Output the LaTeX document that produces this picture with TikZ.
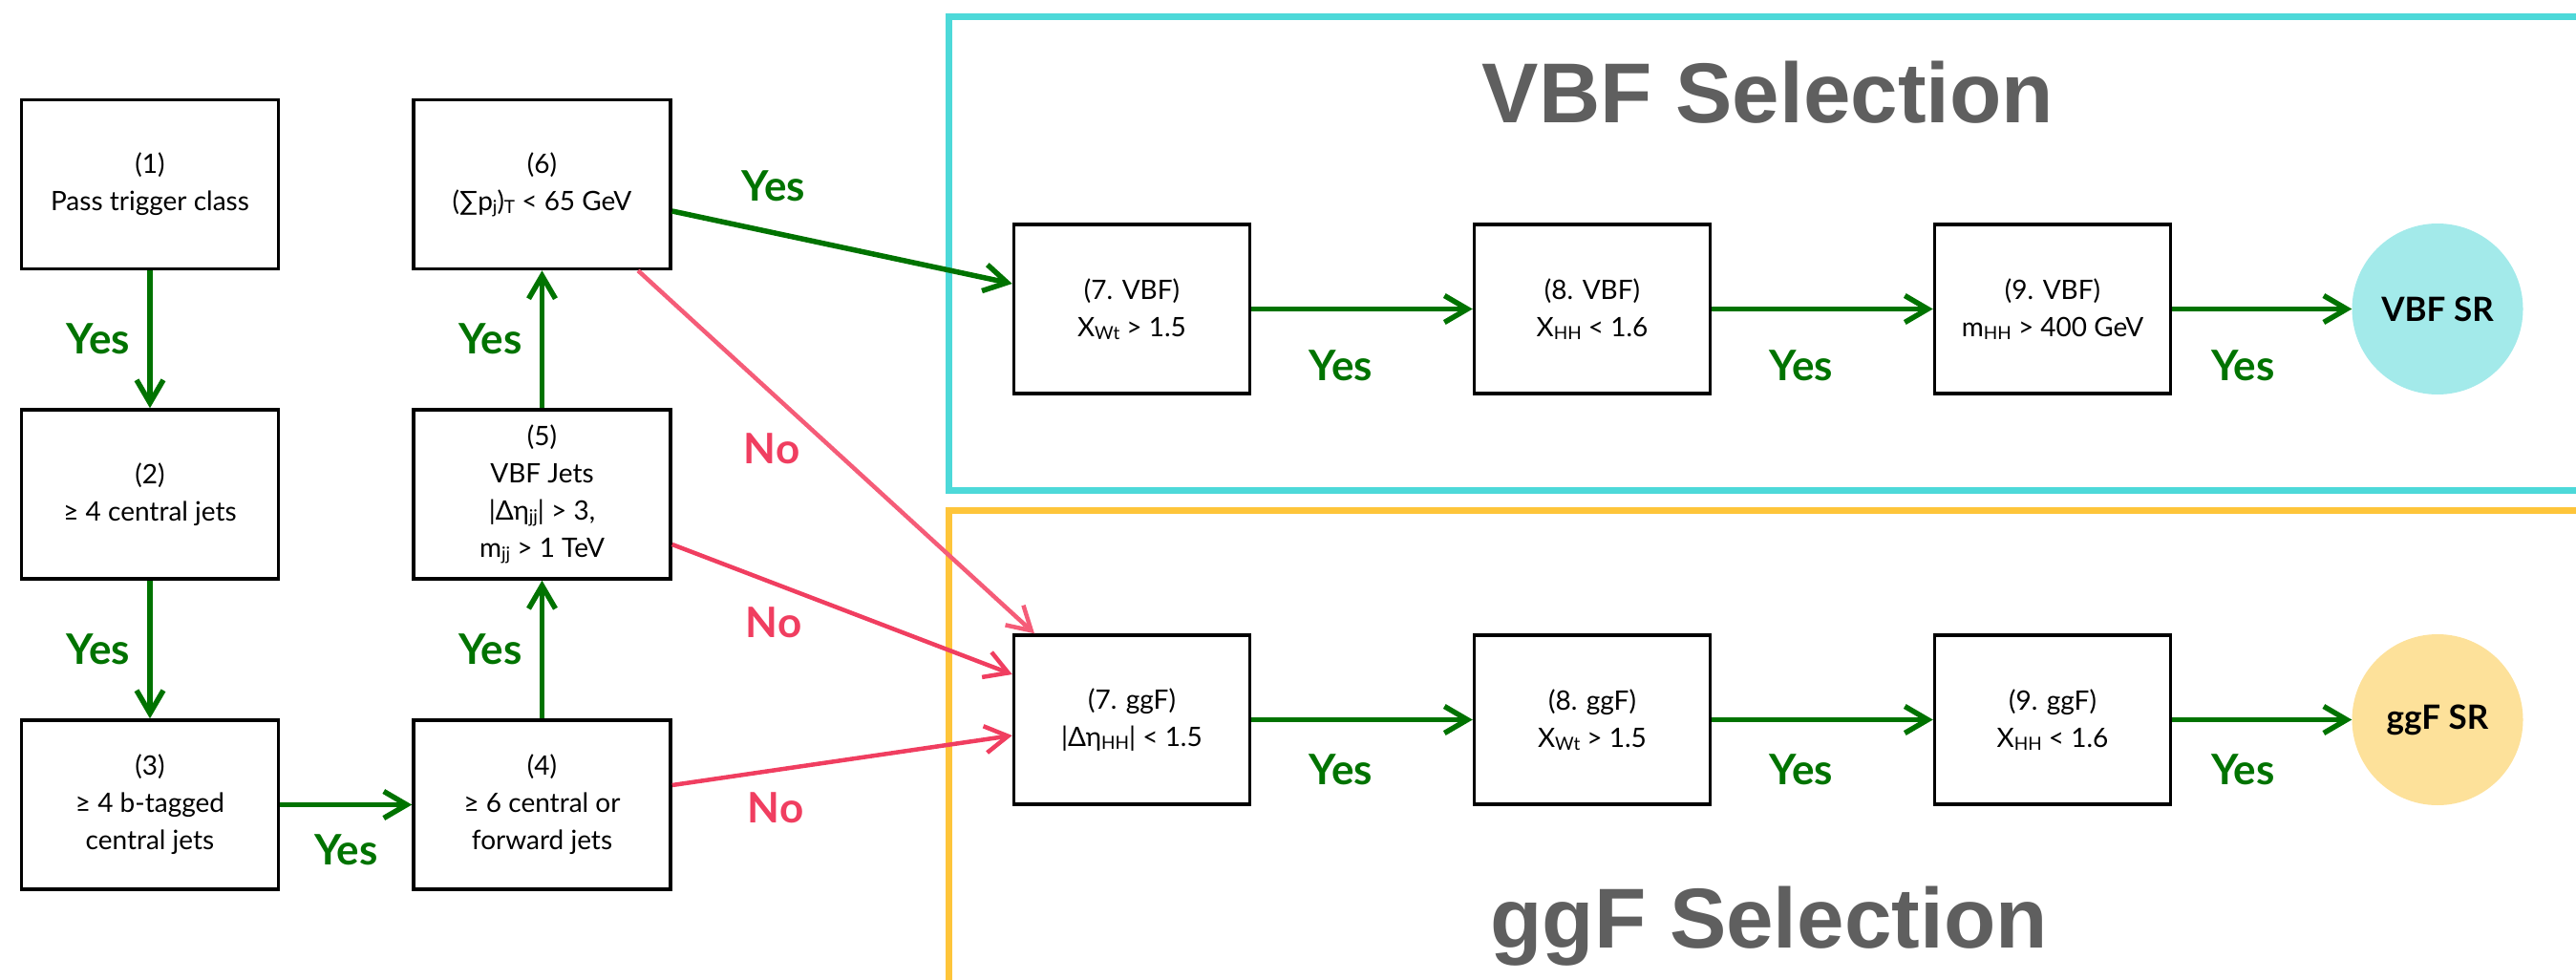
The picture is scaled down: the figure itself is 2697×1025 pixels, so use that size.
\documentclass[tikz,border=0pt]{standalone}
\usepackage{fontspec}
\setmainfont{Lato}
\newfontfamily\headfont{Liberation Sans}
\usetikzlibrary{arrows.meta}

\definecolor{yesgreen}{RGB}{0,115,0}
\definecolor{nored}{RGB}{240,62,96}
\definecolor{nopink}{RGB}{245,92,120}
\definecolor{vbfcyan}{RGB}{77,217,217}
\definecolor{ggfyellow}{RGB}{254,197,58}
\definecolor{vbffill}{RGB}{163,234,234}
\definecolor{ggffill}{RGB}{253,225,154}
\definecolor{headgray}{RGB}{95,95,95}

% small lowered text used for subscripts inside the cut boxes
\newcommand\lsub[1]{\raisebox{-3pt}{\fontsize{19}{19}\selectfont #1}}

\begin{document}
\begin{tikzpicture}[x=1pt,y=-1pt,
  cut/.style={draw=black, line width=3.5pt, fill=white, inner sep=0pt,
    align=center, font=\fontsize{28}{39}\selectfont},
  cutwide/.style={cut, minimum width=269pt, minimum height=177pt},
  cutnarrow/.style={cut, minimum width=247pt, minimum height=177pt},
  region/.style={circle, minimum size=179pt, inner sep=0pt,
    font=\bfseries\fontsize{35}{35}\selectfont},
  yesarrow/.style={draw=yesgreen, line width=5.5pt,
    -{Straight Barb[length=24pt,width=28pt]}},
  noarrow/.style={draw=nored, line width=4.5pt,
    -{Straight Barb[length=24pt,width=28pt]}},
  yeslabel/.style={text=yesgreen, inner sep=0pt,
    font=\bfseries\fontsize{44}{44}\selectfont},
  nolabel/.style={text=nored, inner sep=0pt,
    font=\bfseries\fontsize{44}{44}\selectfont},
  panel/.style={line width=7pt},
  heading/.style={text=headgray, inner sep=0pt, anchor=base,
    font=\headfont\bfseries\fontsize{89}{89}\selectfont}
]
\useasboundingbox (0,0) rectangle (2697,1025);

% selection panels (open towards the right and bottom edges)
\draw[panel, draw=vbfcyan] (993,17.5) rectangle (2720,513.5);
\draw[panel, draw=ggfyellow] (993,534) rectangle (2720,1045);

\node[heading] (vbfhead) at (1851,128) {VBF Selection};
\node[heading] (ggfhead) at (1852,992) {ggF Selection};

% common preselection
\node[cutwide] (b1) at (157,193)   {(1)\\Pass trigger class};
\node[cutwide] (b2) at (157,517.5) {(2)\\≥ 4 central jets};
\node[cutwide] (b3) at (157,842.5) {(3)\\≥ 4 b-tagged\\central jets};
\node[cutwide] (b4) at (567.5,842.5) {(4)\\≥ 6 central or\\forward jets};
\node[cutwide] (b5) at (567.5,517.5) {(5)\\VBF Jets\\|Δη\lsub{jj}| > 3,\\m\lsub{jj} > 1 TeV};
\node[cutwide] (b6) at (567.5,193) {(6)\\(∑p\lsub{j})\lsub{T} < 65 GeV};

% VBF chain
\node[cutnarrow] (v7) at (1185,323.5) {(7. VBF)\\X\lsub{Wt} > 1.5};
\node[cutnarrow] (v8) at (1667,323.5) {(8. VBF)\\X\lsub{HH} < 1.6};
\node[cutnarrow] (v9) at (2149,323.5) {(9. VBF)\\m\lsub{HH} > 400 GeV};
\node[region, fill=vbffill] (vsr) at (2552,323.5) {VBF SR};

% ggF chain
\node[cutnarrow] (g7) at (1185,753.5) {(7. ggF)\\|Δη\lsub{HH}| < 1.5};
\node[cutnarrow] (g8) at (1667,753.5) {(8. ggF)\\X\lsub{Wt} > 1.5};
\node[cutnarrow] (g9) at (2149,753.5) {(9. ggF)\\X\lsub{HH} < 1.6};
\node[region, fill=ggffill] (gsr) at (2552,753.5) {ggF SR};

% preselection flow
\draw[yesarrow] (b1) -- node[yeslabel, left=18pt] {Yes} (b2);
\draw[yesarrow] (b2) -- node[yeslabel, left=18pt] {Yes} (b3);
\draw[yesarrow] (b3) -- node[yeslabel, yshift=-47pt] {Yes} (b4);
\draw[yesarrow] (b4) -- node[yeslabel, left=18pt] {Yes} (b5);
\draw[yesarrow] (b5) -- node[yeslabel, left=18pt] {Yes} (b6);

% branching into the two categories
\draw[yesarrow] ([yshift=-28pt]b6.east) -- ([yshift=26.5pt]v7.west);
\node[yeslabel] (yes6) at (810,195) {Yes};
\draw[noarrow, draw=nopink] ([xshift=100.5pt]b6.south) -- ([xshift=-102pt]g7.north);
\node[nolabel] (no6) at (808,470) {No};
\draw[noarrow] ([yshift=-52.5pt]b5.east) -- ([yshift=47.5pt]g7.west);
\node[nolabel] (no5) at (810,652) {No};
\draw[noarrow] ([yshift=20.5pt]b4.east) -- ([yshift=-16.5pt]g7.west);
\node[nolabel] (no4) at (812,846) {No};

% VBF selection flow
\draw[yesarrow] (v7) -- node[yeslabel, xshift=-22pt, yshift=-59pt] {Yes} (v8);
\draw[yesarrow] (v8) -- node[yeslabel, xshift=-22pt, yshift=-59pt] {Yes} (v9);
\draw[yesarrow] (v9) -- node[yeslabel, xshift=-20pt, yshift=-59pt] {Yes} (vsr);

% ggF selection flow
\draw[yesarrow] (g7) -- node[yeslabel, xshift=-22pt, yshift=-52pt] {Yes} (g8);
\draw[yesarrow] (g8) -- node[yeslabel, xshift=-22pt, yshift=-52pt] {Yes} (g9);
\draw[yesarrow] (g9) -- node[yeslabel, xshift=-20pt, yshift=-52pt] {Yes} (gsr);
\end{tikzpicture}
\end{document}
